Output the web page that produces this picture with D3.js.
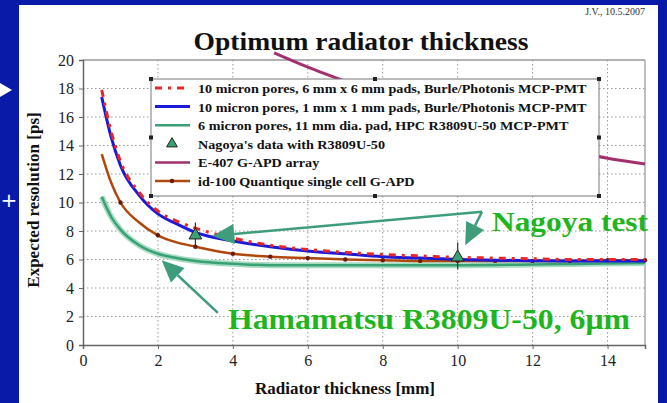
<!DOCTYPE html>
<html>
<head>
<meta charset="utf-8">
<script src="https://cdn.jsdelivr.net/npm/d3@7"></script>
<style>
  body { margin: 0; background: #0a1aa8; }
  svg { display: block; }
</style>
</head>
<body>
<svg id="chart" width="667" height="403"></svg>
<script>
// data
const thickness = [0.5, 0.75, 1, 1.5, 2, 2.5, 3, 4, 5, 6, 7, 8, 9, 10, 11, 12, 13, 14, 15];
const burle6mm = [17.9, 15.0, 12.9, 10.7, 9.4, 8.7, 8.2, 7.5, 7.0, 6.7, 6.5, 6.35, 6.25, 6.15, 6.1, 6.05, 6.0, 6.0, 6.0];
const burle1mm = [17.4, 14.6, 12.6, 10.5, 9.2, 8.5, 7.9, 7.3, 6.9, 6.6, 6.4, 6.2, 6.1, 6.0, 5.95, 5.92, 5.9, 5.9, 5.9];
const hpc = [10.4, 9.0, 8.1, 7.0, 6.4, 6.1, 5.9, 5.7, 5.6, 5.6, 5.6, 5.6, 5.6, 5.6, 5.62, 5.65, 5.68, 5.72, 5.75];
const id100 = [13.4, 11.4, 10.0, 8.6, 7.7, 7.2, 6.9, 6.4, 6.2, 6.1, 6.0, 5.95, 5.9, 5.9, 5.9, 5.9, 5.9, 5.95, 5.95];
const id100Markers = [1, 2, 3, 4, 5, 6, 7, 8, 9, 10, 11, 12, 13, 14, 15];
const e407Thickness = [5.1, 6, 7, 8, 9, 10, 11, 12, 13, 14, 15];
const e407 = [20.5, 19.5, 18.5, 17.5, 16.7, 15.9, 15.1, 14.4, 13.7, 13.1, 12.7];
const nagoyaX = [3, 10];
const nagoyaY = [7.7, 6.15];
const nagoyaLo = [6.9, 5.3];
const nagoyaHi = [8.6, 7.2];
const xTicks = [0, 2, 4, 6, 8, 10, 12, 14];
const yTicks = [0, 2, 4, 6, 8, 10, 12, 14, 16, 18, 20];
const legendLabels = [
  "10 micron pores, 6 mm x 6 mm pads, Burle/Photonis MCP-PMT",
  "10 micron pores, 1 mm x 1 mm pads, Burle/Photonis MCP-PMT",
  "6 micron pores, 11 mm dia. pad, HPC R3809U-50 MCP-PMT",
  "Nagoya's data with R3809U-50",
  "E-407 G-APD array",
  "id-100 Quantique single cell G-APD"
];

const SERIF = "'Liberation Serif', 'Times New Roman', Times, 'Nimbus Roman', 'DejaVu Serif', serif";
const svg = d3.select("#chart").attr("font-family", SERIF);
const W = 667, H = 403;
const plotL = 83, plotR = 645, plotT = 60, plotB = 345;

const x = d3.scaleLinear().domain([0, 15]).range([plotL, plotR]);
const y = d3.scaleLinear().domain([0, 20]).range([plotB, plotT]);

// the slide text is a bit stretched sideways; widen glyphs to match
function stretch(sel, k) {
  const n = sel.node();
  sel.attr("textLength", n.getComputedTextLength() * k).attr("lengthAdjust", "spacingAndGlyphs");
  return sel;
}

// slide background
svg.append("rect").attr("width", W).attr("height", H).attr("fill", "#0a1aa8");
svg.append("rect").attr("x", 19).attr("y", 5).attr("width", 639).attr("height", H - 5).attr("fill", "#fff");
svg.append("polygon").attr("points", "0,83 12,90 0,97").attr("fill", "#fff");
svg.append("text").attr("x", 9).attr("y", 207).attr("text-anchor", "middle")
  .attr("fill", "#fff").attr("font-family", "DejaVu Sans").attr("font-size", 20).text("+");

// title + date
stretch(svg.append("text").attr("x", 361).attr("y", 50).attr("text-anchor", "middle")
  .attr("font-weight", "bold").attr("font-size", 26).attr("fill", "#111").text("Optimum radiator thickness"), 1.06);
svg.append("text").attr("x", 645).attr("y", 15).attr("text-anchor", "end")
  .attr("font-size", 10).attr("fill", "#333").text("J.V., 10.5.2007");

// grid
const grid = svg.append("g").attr("stroke", "#999").attr("stroke-dasharray", "1.5,2.5").attr("stroke-width", 1);
grid.selectAll(".gy").data(yTicks.filter(d => d > 0 && d < 20)).enter().append("line")
  .attr("x1", plotL).attr("x2", plotR).attr("y1", d => y(d)).attr("y2", d => y(d));
grid.selectAll(".gx").data(xTicks.filter(d => d > 0)).enter().append("line")
  .attr("y1", plotT).attr("y2", plotB).attr("x1", d => x(d)).attr("x2", d => x(d));

// frame
svg.append("line").attr("x1", plotL).attr("x2", plotR).attr("y1", plotT).attr("y2", plotT).attr("stroke", "#999").attr("stroke-width", 1.5);
svg.append("line").attr("x1", plotR).attr("x2", plotR).attr("y1", plotT).attr("y2", plotB).attr("stroke", "#aaa").attr("stroke-width", 1.5);

// axes
const xAxis = svg.append("g").attr("transform", `translate(0,${plotB})`)
  .call(d3.axisBottom(x).tickValues(xTicks).tickSize(4).tickPadding(6));
const yAxis = svg.append("g").attr("transform", `translate(${plotL},0)`)
  .call(d3.axisLeft(y).tickValues(yTicks).tickSize(4).tickPadding(5));
[xAxis, yAxis].forEach(a => {
  a.attr("font-family", SERIF).attr("font-size", 16);
  a.select(".domain").attr("stroke", "#666").attr("stroke-width", 1.5);
  a.selectAll(".tick line").attr("stroke", "#666");
  a.selectAll("text").attr("fill", "#222");
});

svg.append("text").attr("x", 345).attr("y", 394).attr("text-anchor", "middle")
  .attr("font-weight", "bold").attr("font-size", 17).attr("fill", "#111").text("Radiator thickness [mm]");
svg.append("text").attr("transform", "translate(39,200) rotate(-90)").attr("text-anchor", "middle")
  .attr("font-weight", "bold").attr("font-size", 17).attr("fill", "#111").text("Expected resolution [ps]");

// curves
const line = d3.line().x(d => x(d[0])).y(d => y(d[1])).curve(d3.curveMonotoneX);
const zip = (xs, ys) => xs.map((v, i) => [v, ys[i]]);

svg.append("path").datum(zip(e407Thickness, e407)).attr("d", line)
  .attr("fill", "none").attr("stroke", "#a3306e").attr("stroke-width", 3);

svg.append("path").datum(zip(thickness, hpc)).attr("d", line)
  .attr("fill", "none").attr("stroke", "#a8dcc2").attr("stroke-width", 6);
svg.append("path").datum(zip(thickness, hpc)).attr("d", line)
  .attr("fill", "none").attr("stroke", "#3aa075").attr("stroke-width", 2.5);

svg.append("path").datum(zip(thickness, id100)).attr("d", line)
  .attr("fill", "none").attr("stroke", "#b0480e").attr("stroke-width", 2.5);
svg.selectAll(".idm").data(id100Markers).enter().append("circle")
  .attr("cx", d => x(d)).attr("cy", d => y(id100[thickness.indexOf(d)]))
  .attr("r", 2.2).attr("fill", "#6a1a08");

svg.append("path").datum(zip(thickness, burle1mm)).attr("d", line)
  .attr("fill", "none").attr("stroke", "#1a1ad8").attr("stroke-width", 3);
svg.append("path").datum(zip(thickness, burle6mm)).attr("d", line)
  .attr("fill", "none").attr("stroke", "#e8262a").attr("stroke-width", 3).attr("stroke-dasharray", "7,6,3,6");

// Nagoya points with error bars
const nag = svg.selectAll(".nag").data(nagoyaX).enter().append("g");
nag.append("line").attr("x1", d => x(d)).attr("x2", d => x(d))
  .attr("y1", (d, i) => y(nagoyaLo[i])).attr("y2", (d, i) => y(nagoyaHi[i]))
  .attr("stroke", "#333").attr("stroke-width", 1.2);
nag.append("path").attr("d", d3.symbol(d3.symbolTriangle, 70))
  .attr("transform", (d, i) => `translate(${x(d)},${y(nagoyaY[i])})`)
  .attr("fill", "#3aa075").attr("stroke", "#222").attr("stroke-width", 1);

// legend
const lg = svg.append("g");
const lx0 = 151, ly0 = 79, lx1 = 599, ly1 = 196;
lg.append("rect").attr("x", lx0).attr("y", ly0).attr("width", lx1 - lx0).attr("height", ly1 - ly0)
  .attr("fill", "#fff").attr("stroke", "#777").attr("stroke-width", 1);
[[lx0, ly0], [(lx0 + lx1) / 2, ly0], [lx1, ly0], [lx0, (ly0 + ly1) / 2], [lx1, (ly0 + ly1) / 2],
 [lx0, ly1], [(lx0 + lx1) / 2, ly1], [lx1, ly1]].forEach(p => {
  lg.append("rect").attr("x", p[0] - 2).attr("y", p[1] - 2).attr("width", 4).attr("height", 4).attr("fill", "#222");
});
const legendStyle = [
  { stroke: "#e8262a", dash: "7,6,3,6", w: 3 },
  { stroke: "#1a1ad8", w: 3 },
  { stroke: "#3aa075", w: 2.5 },
  { tri: true },
  { stroke: "#a3306e", w: 2.5 },
  { stroke: "#b0480e", w: 2.5, dot: true }
];
legendLabels.forEach((t, i) => {
  const yy = 88 + i * 18.6;
  const s = legendStyle[i];
  if (s.tri) {
    lg.append("path").attr("d", d3.symbol(d3.symbolTriangle, 50))
      .attr("transform", `translate(172,${yy})`).attr("fill", "#3aa075").attr("stroke", "#222");
  } else {
    lg.append("line").attr("x1", 155).attr("x2", 190).attr("y1", yy).attr("y2", yy)
      .attr("stroke", s.stroke).attr("stroke-width", s.w).attr("stroke-dasharray", s.dash || null);
    if (s.dot) lg.append("circle").attr("cx", 172).attr("cy", yy).attr("r", 2.2).attr("fill", "#6a1a08");
  }
  stretch(lg.append("text").attr("x", 198).attr("y", yy + 5).attr("font-weight", "bold")
    .attr("font-size", 13.5).attr("fill", "#111").text(t), 1.05);
});

// annotations
const arrowColor = "#3f9d7c";
function arrow(x0, y0, x1, y1) {
  const px0 = x(x0), py0 = y(y0), px1 = x(x1), py1 = y(y1);
  const a = Math.atan2(py1 - py0, px1 - px0);
  const L = 22, Wd = 10;
  const bx = px1 - L * Math.cos(a), by = py1 - L * Math.sin(a);
  svg.append("line").attr("x1", px0).attr("y1", py0).attr("x2", bx).attr("y2", by)
    .attr("stroke", arrowColor).attr("stroke-width", 2.5);
  const pts = [[px1, py1],
    [bx + Wd * Math.sin(a), by - Wd * Math.cos(a)],
    [bx - Wd * Math.sin(a), by + Wd * Math.cos(a)]];
  svg.append("polygon").attr("points", pts.map(p => p.join(",")).join(" ")).attr("fill", arrowColor);
}
arrow(10.65, 9.35, 3.45, 7.65);
arrow(10.65, 9.35, 10.2, 7.0);
arrow(3.6, 2.25, 2.1, 5.95);

svg.append("text").attr("x", 492).attr("y", 231).attr("font-weight", "bold")
  .attr("font-size", 28).attr("fill", "#1fb51f").text("Nagoya test")
  .attr("textLength", 156).attr("lengthAdjust", "spacingAndGlyphs");
svg.append("text").attr("x", 228).attr("y", 329).attr("font-weight", "bold")
  .attr("font-size", 29).attr("fill", "#1fb51f").text("Hamamatsu R3809U-50, 6μm")
  .attr("textLength", 402).attr("lengthAdjust", "spacingAndGlyphs");
</script>
</body>
</html>
